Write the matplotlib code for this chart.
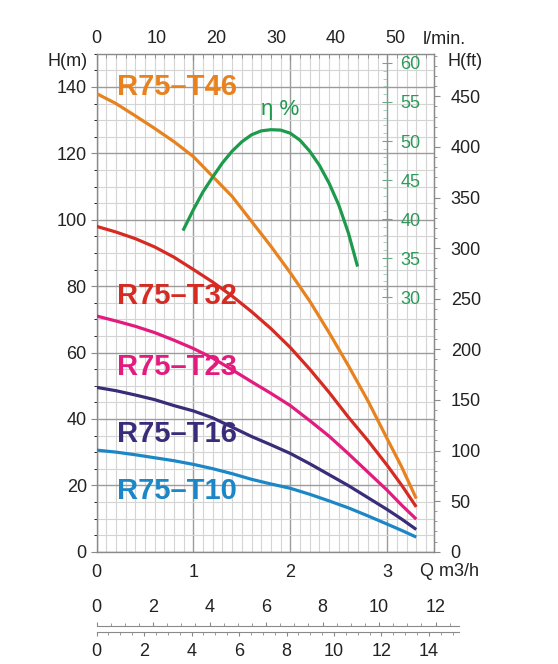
import matplotlib
matplotlib.use('Agg')
import matplotlib.pyplot as plt
from matplotlib.ticker import MultipleLocator, FixedLocator

plt.rcParams['font.family'] = ['Liberation Sans', 'DejaVu Sans']

# pump curves, Q in m3/h, H in m
q_pts = [0, 0.2, 0.4, 0.6, 0.8, 1.0, 1.2, 1.4, 1.6, 1.8, 2.0, 2.2, 2.4, 2.6, 2.8, 3.0, 3.15, 3.3]
h_t46 = [138, 135, 131.3, 127.5, 123.5, 119, 113, 107, 99.5, 92, 84, 75.5, 66, 56, 45.5, 34, 25.5, 16]
h_t32 = [98, 96.3, 94.3, 91.8, 88.7, 85, 81.2, 77, 72.3, 67.2, 61.5, 55, 48, 40.5, 33.5, 26, 20, 13.5]
h_t23 = [71, 69.5, 67.9, 66, 63.7, 61.2, 58.3, 54.8, 51.2, 47.7, 44, 39.5, 34.8, 29.5, 24, 18.5, 14, 9.8]
h_t16 = [49.5, 48.5, 47.2, 45.8, 44, 42.4, 40.3, 37.5, 34.7, 32.2, 29.6, 26.5, 23.2, 19.9, 16.3, 12.7, 9.8, 6.7]
h_t10 = [30.6, 30, 29.2, 28.3, 27.4, 26.3, 25, 23.5, 21.8, 20.4, 19.1, 17.3, 15.3, 13.2, 10.8, 8.3, 6.4, 4.4]

# efficiency curve, %
q_eff = [0.9, 1.0, 1.1, 1.2, 1.3, 1.4, 1.5, 1.6, 1.7, 1.8, 1.9, 2.0, 2.1, 2.2, 2.3, 2.4, 2.5, 2.6, 2.69]
eff = [38.7, 41.2, 43.5, 45.4, 47.2, 48.7, 49.9, 50.8, 51.3, 51.45, 51.4, 51.0, 50.1, 48.7, 46.9,
       44.6, 41.8, 38.2, 34.1]

models = ['R75\u2013T46', 'R75\u2013T32', 'R75\u2013T23', 'R75\u2013T16', 'R75\u2013T10']
label_h = [140, 77, 55.6, 35.5, 18.3]
colors = ['#e8821e', '#d62b22', '#e31b7f', '#3a2c78', '#1b87c6']
green = '#1d9a4c'
txt = '#222222'

lpm_ticks = [0, 10, 20, 30, 40, 50]
ft_ticks = [0, 50, 100, 150, 200, 250, 300, 350, 400, 450]
eff_ticks = [30, 35, 40, 45, 50, 55, 60]

LPM = 16.2      # l/min per m3/h (as drawn)
GPM_A = 3.43    # upper extra scale per m3/h
GPM_B = 4.08    # lower extra scale per m3/h

W, H = 558, 664
fig = plt.figure(figsize=(W / 100, H / 100), dpi=100)

x0, x1 = 96.5, 434
yb, yt = 551.7, 53.7
ax = fig.add_axes([x0 / W, 1 - yb / H, (x1 - x0) / W, (yb - yt) / H])
ax.set_xlim(0, (x1 - x0) / 96.9)
ax.set_ylim(0, 150)

ax.xaxis.set_major_locator(FixedLocator([0, 1, 2, 3]))
ax.xaxis.set_minor_locator(MultipleLocator(0.1))
ax.yaxis.set_major_locator(FixedLocator([0, 20, 40, 60, 80, 100, 120, 140]))
ax.yaxis.set_minor_locator(MultipleLocator(5))
ax.grid(which='minor', color='#d4d4d4', lw=0.8)
ax.grid(which='major', color='#9c9c9c', lw=1.0)
ax.set_axisbelow(True)
for s in ax.spines.values():
    s.set_color('#8a8a8a')
    s.set_linewidth(1.0)

ax.tick_params(axis='x', which='both', bottom=False, top=True, direction='in',
               labelsize=13, labelcolor=txt, pad=9, color='#8a8a8a')
ax.tick_params(axis='x', which='major', length=4)
ax.tick_params(axis='x', which='minor', length=3)
ax.tick_params(axis='y', which='major', direction='out', length=4, labelsize=13,
               labelcolor=txt, pad=3, color='#8a8a8a')
ax.tick_params(axis='y', which='minor', left=False)

# curves
for h, c in zip([h_t46, h_t32, h_t23, h_t16, h_t10], colors):
    ax.plot(q_pts, h, color=c, lw=2.3, solid_capstyle='butt', solid_joinstyle='round', zorder=3)

for name, yv, c in zip(models, label_h, colors):
    ax.text(0.21, yv, name, color=c, fontsize=21, fontweight='bold',
            ha='left', va='center', zorder=5)

# efficiency on its own scale
ax_e = ax.twinx()
ax_e.set_ylim(-2.64, 61.19)
ax_e.plot(q_eff, eff, color=green, lw=2.3, solid_joinstyle='round', zorder=3)
for s in ['left', 'top', 'bottom']:
    ax_e.spines[s].set_visible(False)
ax_e.spines['right'].set_position(('axes', 3.0 / ax.get_xlim()[1]))
ax_e.spines['right'].set_bounds(30, 60)
ax_e.spines['right'].set_color('#6aa886')
ax_e.yaxis.set_major_locator(FixedLocator(eff_ticks))
ax_e.yaxis.set_minor_locator(FixedLocator(list(range(30, 61))))
ax_e.tick_params(axis='y', which='major', direction='inout', length=7, color='#6aa886',
                 labelcolor='#2a9a58', labelsize=13, pad=6)
ax_e.tick_params(axis='y', which='minor', direction='in', length=3, color='#9cc8ae')
ax_e.text(1.89, 54, '\u03b7 %', color=green, fontsize=16, ha='center', va='center')

# head in feet on the right
ax_ft = ax.secondary_yaxis('right', functions=(lambda m: m * 3.281, lambda f: f / 3.281))
ax_ft.yaxis.set_major_locator(FixedLocator(ft_ticks))
ax_ft.yaxis.set_minor_locator(MultipleLocator(10))
ax_ft.spines['right'].set_color('#8a8a8a')
ax_ft.tick_params(which='major', direction='out', length=4, labelsize=13, labelcolor=txt,
                  pad=8, color='#8a8a8a')
ax_ft.tick_params(which='minor', direction='out', length=2.5, color='#8a8a8a')

# l/min on top
ax_l = ax.secondary_xaxis('top', functions=(lambda q: q * LPM, lambda l: l / LPM))
ax_l.xaxis.set_major_locator(FixedLocator(lpm_ticks))
ax_l.tick_params(length=0, labelsize=13, labelcolor=txt, pad=5)
ax_l.spines['top'].set_visible(False)

fig.text(68 / W, 1 - 62 / H, 'H(m)', fontsize=13, color=txt, ha='center', va='center')
fig.text(465 / W, 1 - 61 / H, 'H(ft)', fontsize=13, color=txt, ha='center', va='center')
fig.text(423 / W, 1 - 39 / H, 'l/min.', fontsize=13, color=txt, ha='left', va='center')
fig.text(420 / W, 1 - 571 / H, 'Q m3/h', fontsize=13, color=txt, ha='left', va='center')

# extra flow scales under the chart
q_end = (459 - x0) / 96.9
for ypix, fac, top, labels in [(626, GPM_A, True, [0, 2, 4, 6, 8, 10, 12]),
                               (632, GPM_B, False, [0, 2, 4, 6, 8, 10, 12, 14])]:
    a = fig.add_axes([x0 / W, 1 - ypix / H, (459 - x0) / W, 0.0001])
    a.set_facecolor('none')
    a.set_xlim(0, q_end * fac)
    a.set_yticks([])
    for s in ['left', 'right']:
        a.spines[s].set_visible(False)
    a.spines['bottom' if top else 'top'].set_visible(False)
    a.spines['top' if top else 'bottom'].set_color('#8a8a8a')
    a.xaxis.set_ticks_position('top' if top else 'bottom')
    a.xaxis.set_major_locator(FixedLocator(labels))
    a.xaxis.set_minor_locator(MultipleLocator(0.5))
    a.tick_params(axis='x', which='major', direction='out', length=3, labelsize=13,
                  labelcolor=txt, pad=4 if top else 5, color='#8a8a8a')
    a.tick_params(axis='x', which='minor', direction='out', length=2, color='#8a8a8a')
    if top:
        a.xaxis.set_label_position('top')
        a.tick_params(labeltop=True, labelbottom=False)

fig.savefig('out.png', dpi=100, facecolor='white')
